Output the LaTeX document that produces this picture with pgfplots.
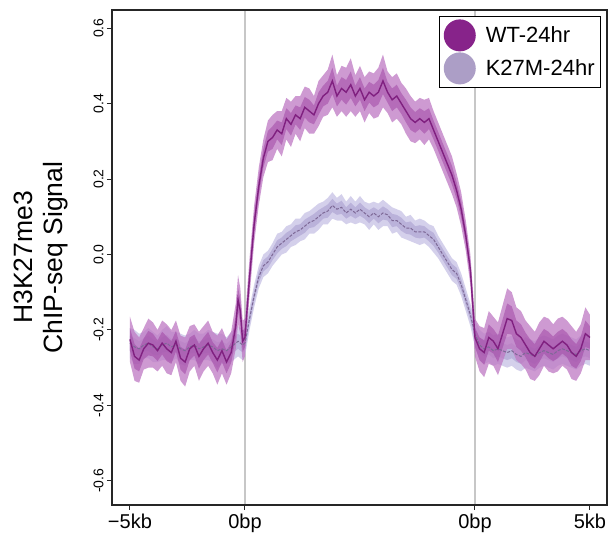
\documentclass[border=0pt]{standalone}
\usepackage{fontspec}
\setmainfont{Liberation Sans}
\usepackage{pgfplots}
\usepackage{pgfplotstable}
\pgfplotsset{compat=1.18}
\usepgfplotslibrary{fillbetween}

\definecolor{wtline}{RGB}{128,32,128}
\definecolor{wtouter}{RGB}{190,120,195}
\definecolor{wtinner}{RGB}{160,70,165}
\definecolor{kouter}{RGB}{205,200,232}
\definecolor{kinner}{RGB}{180,170,215}
\definecolor{kline}{RGB}{125,105,150}
\definecolor{wtleg}{RGB}{135,35,138}
\definecolor{kleg}{RGB}{172,158,198}

\pgfplotstableread{
x wt we k ke
-5.0 -0.225 0.060 -0.235 0.040
-4.8 -0.270 0.065 -0.245 0.045
-4.6 -0.280 0.060 -0.250 0.040
-4.4 -0.250 0.055 -0.240 0.035
-4.2 -0.235 0.065 -0.235 0.040
-4.0 -0.240 0.060 -0.245 0.040
-3.8 -0.255 0.055 -0.250 0.035
-3.6 -0.235 0.060 -0.240 0.040
-3.4 -0.250 0.065 -0.235 0.045
-3.2 -0.260 0.060 -0.245 0.040
-3.0 -0.230 0.055 -0.240 0.035
-2.8 -0.275 0.060 -0.250 0.040
-2.6 -0.285 0.065 -0.255 0.040
-2.4 -0.250 0.060 -0.245 0.035
-2.2 -0.240 0.055 -0.240 0.040
-2.0 -0.270 0.065 -0.250 0.040
-1.8 -0.250 0.060 -0.245 0.035
-1.6 -0.235 0.060 -0.240 0.040
-1.4 -0.260 0.055 -0.245 0.040
-1.2 -0.280 0.065 -0.255 0.045
-1.0 -0.255 0.060 -0.250 0.040
-0.8 -0.285 0.060 -0.255 0.035
-0.6 -0.260 0.055 -0.245 0.040
-0.4 -0.190 0.060 -0.235 0.040
-0.3 -0.120 0.065 -0.230 0.040
-0.2 -0.150 0.060 -0.235 0.040
-0.1 -0.230 0.055 -0.240 0.040
0.0 -0.220 0.050 -0.235 0.035
0.2 -0.060 0.050 -0.170 0.030
0.4 0.080 0.050 -0.110 0.030
0.6 0.180 0.050 -0.060 0.030
0.8 0.255 0.050 -0.030 0.030
1.0 0.300 0.055 -0.020 0.030
1.2 0.310 0.060 0.000 0.030
1.4 0.330 0.050 0.020 0.035
1.6 0.320 0.060 0.030 0.030
1.8 0.360 0.055 0.040 0.035
2.0 0.345 0.060 0.050 0.030
2.2 0.370 0.050 0.060 0.035
2.4 0.360 0.060 0.065 0.030
2.6 0.390 0.055 0.075 0.035
2.8 0.380 0.060 0.085 0.030
3.0 0.370 0.050 0.090 0.035
3.2 0.400 0.060 0.100 0.035
3.4 0.420 0.055 0.110 0.030
3.6 0.430 0.060 0.115 0.035
3.8 0.460 0.070 0.130 0.035
4.0 0.420 0.055 0.120 0.030
4.2 0.440 0.060 0.125 0.035
4.4 0.430 0.065 0.110 0.030
4.6 0.450 0.070 0.120 0.035
4.8 0.420 0.055 0.110 0.030
5.0 0.440 0.060 0.120 0.035
5.2 0.410 0.060 0.110 0.030
5.4 0.430 0.055 0.100 0.035
5.6 0.420 0.060 0.110 0.030
5.8 0.430 0.065 0.100 0.035
6.0 0.460 0.070 0.110 0.035
6.2 0.430 0.055 0.105 0.030
6.4 0.410 0.060 0.090 0.035
6.6 0.420 0.060 0.090 0.030
6.8 0.400 0.055 0.080 0.035
7.0 0.380 0.060 0.070 0.030
7.2 0.360 0.060 0.070 0.035
7.4 0.350 0.055 0.060 0.030
7.6 0.360 0.055 0.060 0.035
7.8 0.350 0.060 0.060 0.030
8.0 0.360 0.055 0.050 0.030
8.2 0.330 0.050 0.040 0.035
8.4 0.300 0.050 0.020 0.030
8.6 0.270 0.050 0.000 0.030
8.8 0.240 0.050 -0.020 0.030
9.0 0.210 0.050 -0.040 0.030
9.2 0.170 0.045 -0.050 0.030
9.4 0.120 0.045 -0.080 0.030
9.6 0.050 0.040 -0.120 0.030
9.8 -0.040 0.040 -0.160 0.030
10.0 -0.220 0.050 -0.210 0.035
10.2 -0.250 0.060 -0.240 0.040
10.4 -0.260 0.065 -0.250 0.040
10.6 -0.220 0.070 -0.245 0.040
10.8 -0.230 0.065 -0.255 0.040
11.0 -0.250 0.070 -0.250 0.040
11.2 -0.210 0.075 -0.255 0.040
11.4 -0.170 0.080 -0.260 0.040
11.6 -0.175 0.075 -0.255 0.040
11.8 -0.210 0.070 -0.265 0.040
12.0 -0.220 0.070 -0.270 0.040
12.2 -0.240 0.065 -0.260 0.040
12.4 -0.260 0.070 -0.265 0.040
12.6 -0.270 0.065 -0.270 0.040
12.8 -0.250 0.070 -0.260 0.040
13.0 -0.230 0.065 -0.255 0.040
13.2 -0.240 0.070 -0.260 0.040
13.4 -0.250 0.065 -0.265 0.040
13.6 -0.240 0.070 -0.255 0.040
13.8 -0.230 0.065 -0.250 0.040
14.0 -0.240 0.065 -0.255 0.040
14.2 -0.260 0.070 -0.260 0.040
14.4 -0.270 0.065 -0.265 0.040
14.6 -0.250 0.065 -0.255 0.040
14.8 -0.210 0.070 -0.250 0.040
15.0 -0.220 0.060 -0.255 0.040
}\data

\begin{document}
\begin{tikzpicture}
\begin{axis}[
  at={(0pt,0pt)}, anchor=south west,
  scale only axis, width=495pt, height=495pt,
  xmin=-5.78, xmax=15.74, ymin=-0.664, ymax=0.648,
  axis line style={line width=1.3pt, black!85},
  tick align=outside, major tick length=5pt,
  tick style={line width=1pt, black!85},
  xtick={-5,0,10,15}, xticklabels={−5kb,0bp,0bp,5kb},
  xtick pos=bottom, ytick pos=left,
  ytick={-0.6,-0.4,-0.2,0,0.2,0.4,0.6},
  yticklabel style={rotate=90, anchor=south, font=\fontsize{14}{14}\selectfont,
    /pgf/number format/.cd, fixed, fixed zerofill, precision=1},
  xticklabel style={font=\fontsize{20}{22}\selectfont},
  /pgf/number format/assume math mode=true,
  extra x ticks={0,10}, extra x tick labels={},
  extra x tick style={grid=major, major grid style={line width=1.2pt, black!22}, major tick length=0pt},
  ylabel={H3K27me3\\ChIP-seq Signal},
  ylabel style={at={(axis description cs:-0.1434,0.5)}, anchor=center, align=center,
    font=\fontsize{26.5}{30}\selectfont},
  legend style={at={(1,1)}, anchor=north east, xshift=-6pt, yshift=-6pt,
    draw=black, line width=0.8pt, font=\fontsize{22}{26}\selectfont,
    row sep=1pt, inner xsep=4pt, inner ysep=3pt, cells={anchor=west}},
  legend image code/.code={\fill[#1] (0pt,0pt) circle (16pt); \path (24pt,0pt);},
]
\addlegendimage{fill=wtleg, draw=none}
\addlegendimage{fill=kleg, draw=none}
\legend{WT-24hr, K27M-24hr}

% K27M bands
\addplot[name path=kU, draw=none, forget plot] table[x=x, y expr=\thisrow{k}+\thisrow{ke}] {\data};
\addplot[name path=kL, draw=none, forget plot] table[x=x, y expr=\thisrow{k}-\thisrow{ke}] {\data};
\addplot[name path=kUi, draw=none, forget plot] table[x=x, y expr=\thisrow{k}+0.5*\thisrow{ke}] {\data};
\addplot[name path=kLi, draw=none, forget plot] table[x=x, y expr=\thisrow{k}-0.5*\thisrow{ke}] {\data};
\addplot[kouter, fill opacity=0.85, forget plot] fill between[of=kU and kL];
\addplot[kinner, fill opacity=0.8, forget plot] fill between[of=kUi and kLi];
\addplot[kline, line width=1pt, dash pattern=on 3pt off 1.5pt, forget plot] table[x=x, y=k] {\data};

% WT bands
\addplot[name path=wU, draw=none, forget plot] table[x=x, y expr=\thisrow{wt}+\thisrow{we}] {\data};
\addplot[name path=wL, draw=none, forget plot] table[x=x, y expr=\thisrow{wt}-\thisrow{we}] {\data};
\addplot[name path=wUi, draw=none, forget plot] table[x=x, y expr=\thisrow{wt}+0.5*\thisrow{we}] {\data};
\addplot[name path=wLi, draw=none, forget plot] table[x=x, y expr=\thisrow{wt}-0.5*\thisrow{we}] {\data};
\addplot[wtouter, fill opacity=0.75, forget plot] fill between[of=wU and wL];
\addplot[wtinner, fill opacity=0.55, forget plot] fill between[of=wUi and wLi];
\addplot[wtline, line width=1.4pt, forget plot] table[x=x, y=wt] {\data};
\end{axis}
\pgfresetboundingbox
\useasboundingbox (-112pt,-30pt) rectangle (499pt,505pt);
\end{tikzpicture}
\end{document}
